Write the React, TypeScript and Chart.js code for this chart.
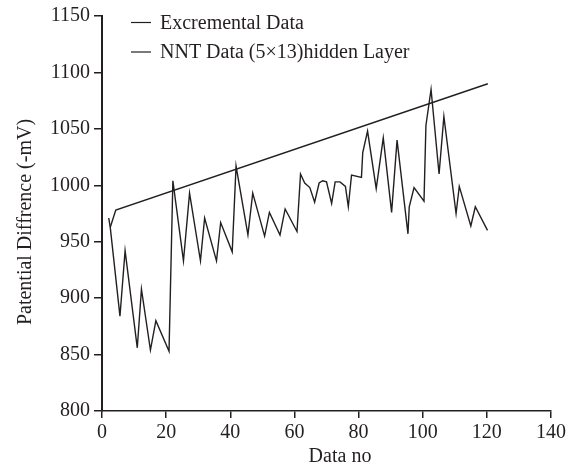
import { useEffect, useRef } from 'react';
import { Chart, registerables } from 'chart.js';

Chart.register(...registerables);

// ---- data ----
const excrementalX = [
  2.1, 2.6, 5.6, 7.2, 11.0, 12.3, 15.1, 16.8, 20.9, 22.1, 25.4, 27.3, 30.7, 32.0, 35.7, 37.0,
  40.6, 41.8, 45.5, 47.0, 50.7, 52.2, 55.5, 57.1, 60.8, 61.9, 63.2, 64.8, 66.3, 67.7, 68.8,
  70.0, 71.6, 72.7, 74.2, 75.9, 76.8, 77.8, 80.9, 81.3, 82.8, 85.5, 87.7, 90.3, 92.0, 95.4,
  95.8, 97.3, 100.4, 101.0, 102.6, 105.1, 106.6, 110.4, 111.4, 115.0, 116.4, 120.2,
];
const excrementalY = [
  971, 962, 884, 942, 856, 908, 854, 880, 853, 1004, 933, 993, 933, 971, 933, 967,
  941, 1017, 956, 993, 955, 976, 956, 979, 959, 1010, 1002, 998, 985, 1002, 1004,
  1003, 984, 1003, 1003, 999, 981, 1009, 1007, 1029, 1048, 997, 1042, 976, 1040, 957,
  981, 998, 986, 1053, 1085, 1010, 1061, 975, 999, 964, 981, 960,
];
const nntX = [2.6, 4.3, 120.3];
const nntY = [963, 978, 1090];

const seriesLabels = ['Excremental Data', 'NNT Data (5×13)hidden Layer'];
const xTitle = 'Data no';
const yTitle = 'Patential Diffrence (-mV)';
const xMin = 0;
const xMax = 140;
const xStep = 20;
const yMin = 800;
const yMax = 1150;
const yStep = 50;

const ink = '#231f20';
const family = '"Liberation Serif", "Times New Roman", Times, serif';

const toPoints = (xs: number[], ys: number[]) => xs.map((x, i) => ({ x, y: ys[i] }));
const plainLabel = (v: any) => String(v);

const decorPlugin = {
  id: 'decor',
  afterDraw(chart: any) {
    const ctx = chart.ctx as CanvasRenderingContext2D;
    ctx.save();
    ctx.fillStyle = ink;
    ctx.strokeStyle = ink;
    ctx.font = `20px ${family}`;
    // legend
    const legendY = [22.5, 52];
    seriesLabels.forEach((label, i) => {
      ctx.lineWidth = 1.2;
      ctx.beginPath();
      ctx.moveTo(131, legendY[i]);
      ctx.lineTo(151, legendY[i]);
      ctx.stroke();
      ctx.textAlign = 'left';
      ctx.textBaseline = 'middle';
      ctx.fillText(label, 160, legendY[i] + 1);
    });
    // x title
    ctx.textAlign = 'center';
    ctx.textBaseline = 'alphabetic';
    ctx.fillText(xTitle, 340, 462);
    // y title
    ctx.translate(31, 222);
    ctx.rotate(-Math.PI / 2);
    ctx.textAlign = 'center';
    ctx.textBaseline = 'alphabetic';
    ctx.fillText(yTitle, 0, 0);
    ctx.restore();
  },
};

export default function App() {
  const ref = useRef<HTMLCanvasElement | null>(null);

  useEffect(() => {
    if (!ref.current) return;
    const lineStyle = {
      showLine: true,
      borderColor: ink,
      backgroundColor: ink,
      borderWidth: 1.4,
      pointRadius: 0,
      pointHoverRadius: 0,
      fill: false,
      tension: 0,
    };
    const chart = new Chart(ref.current, {
      type: 'scatter',
      data: {
        datasets: [
          { label: seriesLabels[0], data: toPoints(excrementalX, excrementalY), ...lineStyle },
          { label: seriesLabels[1], data: toPoints(nntX, nntY), ...lineStyle },
        ],
      },
      options: {
        responsive: false,
        animation: false,
        devicePixelRatio: 1,
        layout: { padding: { top: 16, right: 22, left: 0, bottom: 0 } },
        plugins: { legend: { display: false }, tooltip: { enabled: false } },
        scales: {
          x: {
            type: 'linear',
            min: xMin,
            max: xMax,
            ticks: { stepSize: xStep, color: ink, font: { family, size: 20 }, padding: 3, callback: plainLabel },
            grid: { display: true, drawOnChartArea: false, drawTicks: true, tickLength: 7, color: ink, lineWidth: 1.5 },
            border: { display: true, color: ink, width: 1.5 },
            afterFit: (s: any) => { s.height = 57; },
          },
          y: {
            type: 'linear',
            min: yMin,
            max: yMax,
            ticks: { stepSize: yStep, color: ink, font: { family, size: 20 }, padding: 4, callback: plainLabel },
            grid: { display: true, drawOnChartArea: false, drawTicks: true, tickLength: 8, color: ink, lineWidth: 1.5 },
            border: { display: true, color: ink, width: 2 },
            afterFit: (s: any) => { s.width = 102; },
          },
        },
      },
      plugins: [decorPlugin],
    } as any);
    return () => chart.destroy();
  }, []);

  return (
    <div style={{ position: 'absolute', left: 0, top: 0, width: 573, height: 468, background: '#fff' }}>
      <canvas ref={ref} width={573} height={468} style={{ width: 573, height: 468, display: 'block' }} />
    </div>
  );
}
